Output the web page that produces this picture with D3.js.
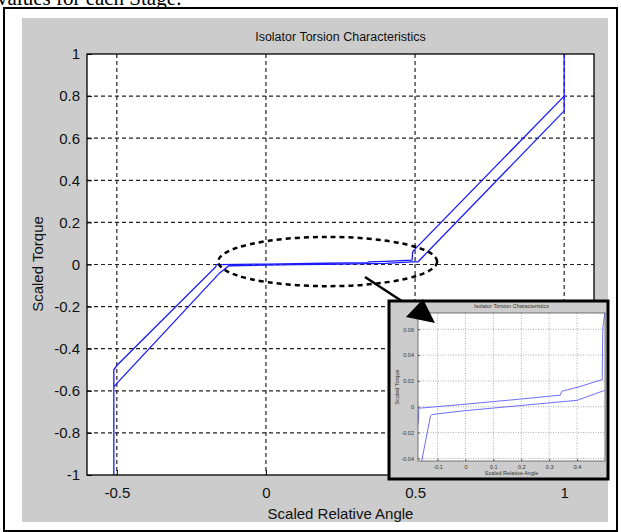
<!DOCTYPE html>
<html lang="en">
<head>
	<meta charset="UTF-8">
	<title>Isolator Torsion Characteristics</title>
	<script type="text/javascript" src="https://cdn.jsdelivr.net/npm/d3@7/dist/d3.min.js"></script>
	<style>
		body { margin: 0; background: #fff; }
		text { font-family: "Liberation Sans", Arial, sans-serif; }
	</style>
</head>
<body>
	<div class="chart"></div>
	<script type="text/javascript">
		// branch that is on top (left of the loop)
		var upperAngle  = [-0.51, -0.51, -0.50, -0.168, -0.167, -0.16, 0.00, 0.10, 0.20, 0.34, 0.345, 0.40, 0.49, 0.492, 0.495, 1.00];
		var upperTorque = [-1.00, -0.50, -0.48, -0.010, -0.001, -0.001, 0.002, 0.004, 0.006, 0.009, 0.012, 0.015, 0.021, 0.060, 0.066, 0.80];
		// branch underneath (right of the loop)
		var lowerAngle  = [-0.51, -0.155, -0.125, -0.12, 0.00, 0.10, 0.20, 0.30, 0.40, 0.49, 0.51, 1.00, 1.00];
		var lowerTorque = [-0.58, -0.040, -0.007, -0.006, -0.003, -0.001, 0.001, 0.003, 0.005, 0.012, 0.013, 0.73, 1.00];

		var xTicks = [-0.5, 0, 0.5, 1];
		var yTicks = [-1, -0.8, -0.6, -0.4, -0.2, 0, 0.2, 0.4, 0.6, 0.8, 1];
		var insetXTicks = [-0.1, 0, 0.1, 0.2, 0.3, 0.4];
		var insetYTicks = [-0.04, -0.02, 0, 0.02, 0.04, 0.06];

		var titleText = 'Isolator Torsion Characteristics';
		var xLabel = 'Scaled Relative Angle';
		var yLabel = 'Scaled Torque';

		var fmt = function(d){ return String(+d.toFixed(2)); };

		var svg = d3.select('.chart').append('svg')
			.attr('width',621).attr('height',532);

		// text of the page above the figure, cut off
		svg.append('text')
			.attr('x',-3).attr('y',5)
			.style('font-family','"Liberation Serif", "Times New Roman", serif')
			.style('font-size','21px')
			.text('values for each Stage:');

		// frame and grey figure background
		svg.append('rect')
			.attr('x',4).attr('y',8).attr('width',613).attr('height',523)
			.attr('fill','#fff').attr('stroke','#000').attr('stroke-width',2);
		svg.append('rect')
			.attr('x',22).attr('y',18).attr('width',586).attr('height',504)
			.attr('fill','#cccccc');

		// ---------- main axes ----------
		var x = d3.scaleLinear().domain([-0.6,1.1]).range([87,594]);
		var y = d3.scaleLinear().domain([-1,1]).range([475,54]);

		svg.append('rect')
			.attr('x',87).attr('y',54).attr('width',507).attr('height',421)
			.attr('fill','#fff');

		var grid = svg.append('g');
		grid.selectAll('.gx').data(xTicks).enter().append('line')
			.attr('x1',function(d){ return x(d); }).attr('x2',function(d){ return x(d); })
			.attr('y1',54).attr('y2',475)
			.attr('stroke','#222').attr('stroke-width',1.2).attr('stroke-dasharray','4,3');
		grid.selectAll('.gy').data(yTicks.slice(1,-1)).enter().append('line')
			.attr('y1',function(d){ return y(d); }).attr('y2',function(d){ return y(d); })
			.attr('x1',87).attr('x2',594)
			.attr('stroke','#222').attr('stroke-width',1.2).attr('stroke-dasharray','4,3');

		var line = d3.line()
			.x(function(d){ return x(d[0]); })
			.y(function(d){ return y(d[1]); });

		var upper = d3.zip(upperAngle, upperTorque);
		var lower = d3.zip(lowerAngle, lowerTorque);

		svg.selectAll('.branch').data([upper, lower]).enter().append('path')
			.attr('d',line)
			.attr('fill','none')
			.attr('stroke','#1a1aff')
			.attr('stroke-width',1.3);

		var yAxis = d3.axisLeft(y).tickValues(yTicks).tickFormat(fmt).tickSize(-5).tickPadding(7);
		var xAxis = d3.axisBottom(x).tickValues(xTicks).tickFormat(fmt).tickSize(-5).tickPadding(12);

		var gy = svg.append('g').attr('transform','translate(87,0)').call(yAxis);
		var gx = svg.append('g').attr('transform','translate(0,475)').call(xAxis);
		[gx, gy].forEach(function(g){
			g.select('.domain').remove();
			g.selectAll('text').style('font-size','15px').attr('fill','#111');
			g.selectAll('line').attr('stroke','#000');
		});

		svg.append('rect')
			.attr('x',87).attr('y',54).attr('width',507).attr('height',421)
			.attr('fill','none').attr('stroke','#000').attr('stroke-width',1.3);

		svg.append('text')
			.attr('x',340.5).attr('y',41)
			.attr('text-anchor','middle')
			.style('font-size','12.5px')
			.attr('fill','#111')
			.text(titleText);
		svg.append('text')
			.attr('x',340.5).attr('y',519)
			.attr('text-anchor','middle')
			.style('font-size','15px')
			.attr('fill','#111')
			.text(xLabel);
		svg.append('text')
			.attr('transform','translate(43,264) rotate(-90)')
			.attr('text-anchor','middle')
			.style('font-size','15px')
			.attr('fill','#111')
			.text(yLabel);

		// ---------- annotation: ellipse + arrow ----------
		svg.append('ellipse')
			.attr('cx',x(0.207)).attr('cy',y(0.014))
			.attr('rx',x(0.207 + 0.367) - x(0.207))
			.attr('ry',y(0) - y(0.117))
			.attr('fill','none').attr('stroke','#000')
			.attr('stroke-width',2.5).attr('stroke-dasharray','5,4');

		svg.append('line')
			.attr('x1',365).attr('y1',277).attr('x2',420).attr('y2',313)
			.attr('stroke','#000').attr('stroke-width',2.5);

		// ---------- inset ----------
		var ix = d3.scaleLinear().domain([-0.17,0.5]).range([418,605]);
		var iy = d3.scaleLinear().domain([-0.042,0.0726]).range([461,313]);

		var inset = svg.append('g');
		inset.append('rect')
			.attr('x',389).attr('y',301).attr('width',219).attr('height',178)
			.attr('fill','#cccccc').attr('stroke','#000').attr('stroke-width',3);
		inset.append('rect')
			.attr('x',418).attr('y',313).attr('width',187).attr('height',148)
			.attr('fill','#fff');

		svg.append('clipPath').attr('id','insetClip')
			.append('rect').attr('x',418).attr('y',313).attr('width',187).attr('height',148);

		inset.selectAll('.igx').data(insetXTicks).enter().append('line')
			.attr('x1',function(d){ return ix(d); }).attr('x2',function(d){ return ix(d); })
			.attr('y1',313).attr('y2',461)
			.attr('stroke','#999').attr('stroke-width',0.8).attr('stroke-dasharray','1,1.5');
		inset.selectAll('.igy').data(insetYTicks).enter().append('line')
			.attr('y1',function(d){ return iy(d); }).attr('y2',function(d){ return iy(d); })
			.attr('x1',418).attr('x2',605)
			.attr('stroke','#999').attr('stroke-width',0.8).attr('stroke-dasharray','1,1.5');

		var iline = d3.line()
			.x(function(d){ return ix(d[0]); })
			.y(function(d){ return iy(d[1]); });

		inset.append('g').attr('clip-path','url(#insetClip)')
			.selectAll('path').data([upper, lower]).enter().append('path')
			.attr('d',iline)
			.attr('fill','none')
			.attr('stroke','#6e6eff')
			.attr('stroke-width',1);

		inset.append('rect')
			.attr('x',418).attr('y',313).attr('width',187).attr('height',148)
			.attr('fill','none').attr('stroke','#555').attr('stroke-width',0.8);

		var iyAxis = d3.axisLeft(iy).tickValues(insetYTicks).tickFormat(fmt).tickSize(-2).tickPadding(4);
		var ixAxis = d3.axisBottom(ix).tickValues(insetXTicks).tickFormat(fmt).tickSize(-2).tickPadding(4);
		var igy = inset.append('g').attr('transform','translate(418,0)').call(iyAxis);
		var igx = inset.append('g').attr('transform','translate(0,461)').call(ixAxis);
		[igx, igy].forEach(function(g){
			g.select('.domain').remove();
			g.selectAll('text').style('font-size','5.5px').attr('fill','#333');
			g.selectAll('line').attr('stroke','#555');
		});

		inset.append('text')
			.attr('x',511.5).attr('y',308)
			.attr('text-anchor','middle')
			.style('font-size','5.5px').attr('fill','#333')
			.text(titleText);
		inset.append('text')
			.attr('x',511.5).attr('y',475)
			.attr('text-anchor','middle')
			.style('font-size','5.5px').attr('fill','#333')
			.text(xLabel);
		inset.append('text')
			.attr('transform','translate(399,387) rotate(-90)')
			.attr('text-anchor','middle')
			.style('font-size','5.5px').attr('fill','#333')
			.text(yLabel);

		// arrow head sits on top of the inset
		svg.append('path')
			.attr('d','M423,299 L406,317 L435,323 Z')
			.attr('fill','#000');
	</script>
</body>
</html>
